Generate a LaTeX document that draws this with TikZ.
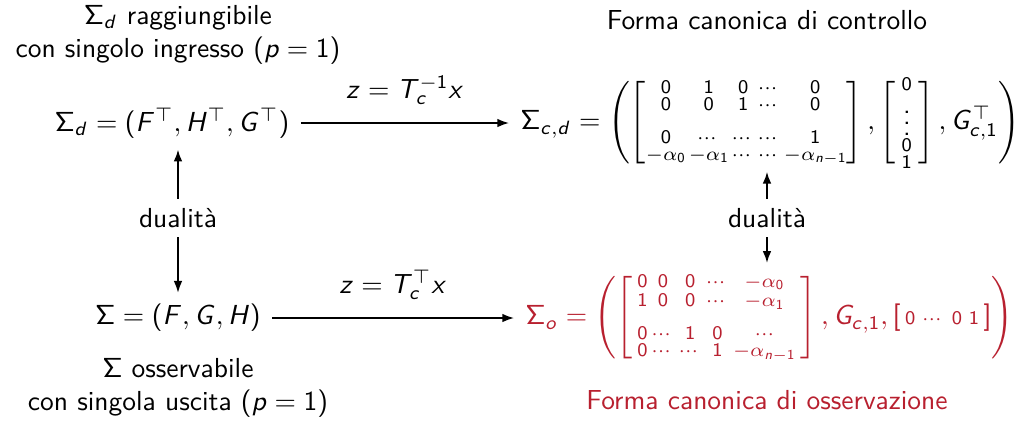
\documentclass[tikz,border=0pt]{standalone}
\usepackage{amsmath}
\usepackage{tikz}
\usetikzlibrary{arrows.meta,positioning}
\usepackage{xcolor}
\renewcommand{\familydefault}{\sfdefault}
% sans serif math: latin letters slanted, lowercase greek left as is
\SetSymbolFont{operators}{normal}{OT1}{cmss}{m}{n}
\DeclareSymbolFont{sfslanted}{OT1}{cmss}{m}{sl}
\newcount\sfletcnt
\sfletcnt=`A
\loop
  \mathcode\sfletcnt=\numexpr "7000+\symsfslanted*"100+\sfletcnt\relax
  \advance\sfletcnt by 1
\ifnum\sfletcnt<`[ \repeat
\sfletcnt=`a
\loop
  \mathcode\sfletcnt=\numexpr "7000+\symsfslanted*"100+\sfletcnt\relax
  \advance\sfletcnt by 1
\ifnum\sfletcnt<`\{ \repeat
% small matrix with a chosen column gap
\makeatletter
\newenvironment{tightmat}[1]{\vcenter\bgroup\Let@\restore@math@cr\default@tag
  \baselineskip6\ex@ \lineskip1.5\ex@ \lineskiplimit\lineskip
  \ialign\bgroup\hfil$\m@th\scriptstyle##$\hfil&&\hskip#1\hfil$\m@th\scriptstyle##$\hfil\crcr}
  {\crcr\egroup\egroup}
\makeatother
\definecolor{ObsRed}{HTML}{B8202F}
\tikzset{
  maparrow/.style={-{Latex[length=1.5mm,width=1.1mm]},line width=0.55pt},
  system/.style={inner sep=4pt},
  caption/.style={align=center},
  redform/.style={text=ObsRed}
}

\begin{document}
\begin{tikzpicture}[x=0.3636pt,y=-0.3636pt]
  \useasboundingbox (0,0) rectangle (1019,422);

  \node[caption] (reach) at (178,35) {$\Sigma_d$ raggiungibile\\con singolo ingresso ($p = 1$)};
  \node[caption] (ctrltitle) at (767,20) {Forma canonica di controllo};
  \node[caption] (obsv) at (178,388) {$\Sigma$ osservabile\\con singola uscita ($p = 1$)};
  \node[caption,redform] (obstitle) at (767,400) {Forma canonica di osservazione};

  \node[system] (sysd) at (172,123) {$\Sigma_d = (F^\top, H^\top, G^\top)$};
  \node[system] (sys) at (178,318) {$\Sigma = (F, G, H)$};
  \node[system,anchor=west] (canctrl) at (509,123) {$\Sigma_{c,d} = \Biggl( \left[\begin{tightmat}{1pt}
      0 & 1 & 0 & \cdots & 0\\
      0 & 0 & 1 & \cdots & 0\\
      \\
      0 & \cdots & \cdots & \cdots & 1\\
      -\alpha_0 & -\alpha_1 & \cdots & \cdots & -\alpha_{n-1}
    \end{tightmat}\right] , \left[\mkern4mu\begin{tightmat}{0pt} 0\\ \vdots\\ 0\\ 1\end{tightmat}\mkern4mu\right] , G_{c,1}^\top \Biggr)$};
  \node[system,anchor=west,redform] (canobs) at (514,318) {$\Sigma_o = \Biggl( \left[\,\begin{tightmat}{1.4pt}
      0 & 0 & 0 & \cdots & -\alpha_0\\
      1 & 0 & 0 & \cdots & -\alpha_1\\
      \\
      0 & \cdots & 1 & 0 & \cdots\\
      0 & \cdots & \cdots & 1 & -\alpha_{n-1}
    \end{tightmat}\,\right], G_{c,1}, \left[\,\begin{tightmat}{2.4pt} 0 & \cdots & 0 & 1\end{tightmat}\,\right] \Biggr)$};

  \node (dualleft) at (178,218) {dualit\`a};
  \node (dualright) at (767,218) {dualit\`a};

  \draw[maparrow] (sysd.east) -- (sysd.east -| canctrl.west)
    node[midway,above=3pt] (ctrlmap) {$z = T_c^{-1}x$};
  \draw[maparrow] (sys.east) -- (sys.east -| canobs.west)
    node[midway,above=3pt] (obsmap) {$z = T_c^\top x$};

  \draw[maparrow] (dualleft.north) -- (dualleft.north |- sysd.south);
  \draw[maparrow] (dualleft.south) -- (dualleft.south |- sys.north);
  \draw[maparrow,shorten >=-3pt] (dualright.north) -- (dualright.north |- canctrl.south);
  \draw[maparrow] (dualright.south) -- (dualright.south |- canobs.north);
\end{tikzpicture}
\end{document}
